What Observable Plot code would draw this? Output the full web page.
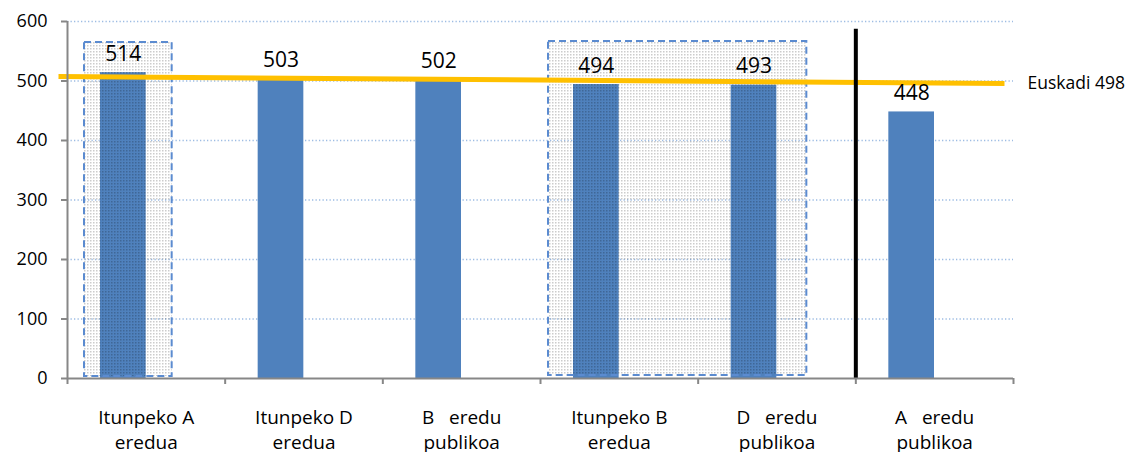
<!DOCTYPE html>
<html><head><meta charset="utf-8">
<script src="https://cdn.jsdelivr.net/npm/d3@7"></script>
<script src="https://cdn.jsdelivr.net/npm/@observablehq/plot@0.6"></script>
<style>html,body{margin:0;padding:0;background:#fff}</style>
</head><body><div id="chart"></div>
<script>
// ---- data ----
const categories = ["Itunpeko A\neredua", "Itunpeko D\neredua", "B\u00a0\u00a0 eredu\npublikoa", "Itunpeko B\neredua", "D\u00a0\u00a0 eredu\npublikoa", "A\u00a0\u00a0 eredu\npublikoa"];
const values = [514, 503, 502, 494, 493, 448];
const yTicks = [0, 100, 200, 300, 400, 500, 600];
const euskadiLabel = "Euskadi 498";
const euskadiLineEnds = [507.5, 496];          // drawn (slightly tilted) reference line, left and right end
const highlightGroups = [[0, 0], [3, 4]];      // first / last category index inside dashed boxes
const separatorAfter = [5];                    // category boundary with the black separator
const separatorTop = 592;

const boundaries = d3.range(categories.length + 1);
const barInsetL = 33, barInsetR = 79;

const svg = Plot.plot({
  width: 1127, height: 452,
  marginLeft: 67, marginRight: 114, marginTop: 21, marginBottom: 74,
  style: {fontFamily: "'Open Sans', sans-serif", background: "white", color: "black", overflow: "hidden"},
  x: {domain: [0, categories.length], axis: null},
  y: {domain: [0, 600], axis: null},
  marks: [
    Plot.ruleY(yTicks.filter(t => t > 0), {stroke: "#9dbce3", strokeWidth: 1.3, strokeDasharray: "1.3,2.2"}),
    Plot.rect(values, {x1: (d, i) => i, x2: (d, i) => i + 1, y1: 0, y2: d => d,
      insetLeft: barInsetL, insetRight: barInsetR, fill: "#4f81bd"}),
    Plot.rect([highlightGroups[0]], {x1: g => g[0], x2: g => g[1] + 1, y1: 0, y2: 600,
      insetLeft: 17, insetRight: 53, insetTop: 21, insetBottom: 2,
      fill: "url(#dots)", stroke: "#5b8bd0", strokeWidth: 2, strokeDasharray: "7,4"}),
    Plot.rect([highlightGroups[1]], {x1: g => g[0], x2: g => g[1] + 1, y1: 0, y2: 600,
      insetLeft: 8, insetRight: 49, insetTop: 20, insetBottom: 3,
      fill: "url(#dots)", stroke: "#5b8bd0", strokeWidth: 2, strokeDasharray: "7,4"}),
    Plot.link([euskadiLineEnds], {x1: 0, x2: categories.length, y1: d => d[0], y2: d => d[1],
      stroke: "#ffc000", strokeWidth: 5, dx: -9}),
    Plot.text([euskadiLabel], {x: categories.length, y: euskadiLineEnds[1], text: d => d,
      textAnchor: "start", dx: 14, fontSize: 17.5, fill: "black"}),
    Plot.ruleX(separatorAfter, {y1: 0, y2: separatorTop, stroke: "black", strokeWidth: 4, insetBottom: -3}),
    Plot.ruleX([0], {y1: 0, y2: 600, stroke: "#878787", strokeWidth: 2}),
    Plot.ruleY([0], {x1: 0, x2: categories.length, stroke: "#878787", strokeWidth: 2}),
    Plot.axisY({ticks: yTicks, tickSize: 6, tickPadding: 14, stroke: "#878787", strokeWidth: 2,
      fill: "black", fontSize: 18, tickFormat: d => String(d), label: null}),
    Plot.axisX({ticks: boundaries, tickSize: 6, stroke: "#878787", strokeWidth: 2,
      tickFormat: () => "", label: null}),
    Plot.text(categories, {x: (d, i) => i + 0.5, y: 0, text: d => d, lineAnchor: "top",
      dy: 27, fontSize: 19, lineHeight: 1.35, fill: "black"}),
    Plot.text(values, {x: (d, i) => i + 0.5, y: d => d, text: d => String(d), lineAnchor: "bottom",
      dx: (barInsetL - barInsetR) / 2, dy: -12, fontSize: 21, fill: "black"})
  ]
});

d3.select(svg).insert("defs", ":first-child").html(
  '<pattern id="dots" width="3" height="3" patternUnits="userSpaceOnUse">' +
  '<rect x="0" y="0" width="1.5" height="1.5" fill="rgba(0,0,0,0.2)"/></pattern>');

document.getElementById("chart").appendChild(svg);
</script>
</body></html>
